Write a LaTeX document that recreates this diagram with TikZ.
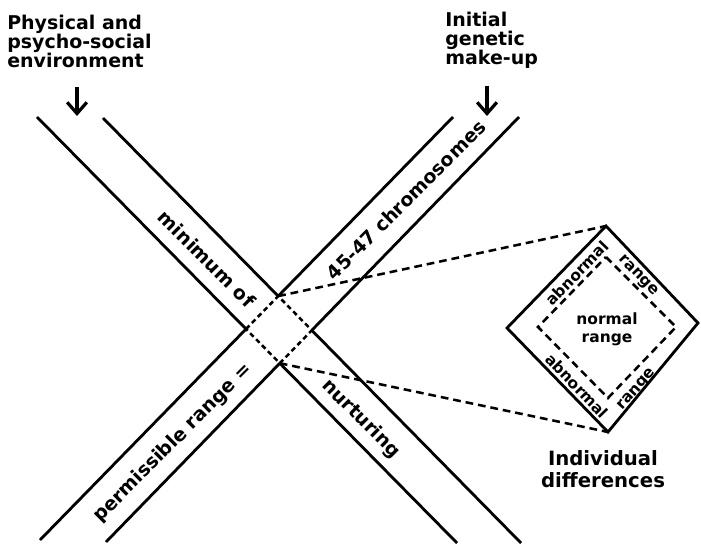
\documentclass[tikz,border=0pt]{standalone}
\usepackage{fontspec}
\setmainfont{DejaVu Sans}
\usetikzlibrary{arrows.meta}

\tikzset{
  band/.style={line width=2pt},
  crossdash/.style={line width=1.8pt, dash pattern=on 3.5pt off 2.5pt},
  linkdash/.style={line width=1.8pt, dash pattern=on 5.5pt off 3.5pt},
  pointer/.style={line width=2.3pt, -{Straight Barb[length=8pt, width=14pt]}},
  headtext/.style={font=\bfseries\fontsize{13.5}{13.5}\selectfont, inner sep=0pt},
  bandtext/.style={font=\bfseries\fontsize{13.5}{14}\selectfont, inner sep=0pt},
  ringtext/.style={font=\bfseries\fontsize{11}{12.8}\selectfont, inner sep=0pt},
}

\begin{document}
\begin{tikzpicture}[x=0.025cm, y=-0.025cm]
\useasboundingbox (0,0) rectangle (701,544);

% ends of the two bands
\coordinate (envA) at (37,117);  \coordinate (envZ) at (457,543);
\coordinate (envB) at (103,118); \coordinate (envY) at (521,543);
\coordinate (genA) at (40,540);  \coordinate (genZ) at (453,117);
\coordinate (genB) at (106,542); \coordinate (genY) at (519,117);

% where they cross
\coordinate (xL) at (intersection of envA--envZ and genA--genZ);
\coordinate (xT) at (intersection of envB--envY and genA--genZ);
\coordinate (xR) at (intersection of envB--envY and genB--genY);
\coordinate (xB) at (intersection of envA--envZ and genB--genY);

% solid band edges, dashed inside the overlap
\draw[band] (envA) -- (xL) (xB) -- (envZ);
\draw[band] (envB) -- (xT) (xR) -- (envY);
\draw[band] (genA) -- (xL) (xT) -- (genZ);
\draw[band] (genB) -- (xB) (xR) -- (genY);
\draw[crossdash] (xL) -- (xT) -- (xR) -- (xB) -- cycle;

% band labels
\node[bandtext, rotate=-45] (minof) at (207,259) {minimum of};
\node[bandtext, rotate=45] (permis) at (173,443) {permissible range =};
\node[bandtext, rotate=45] (chrom) at (406,200) {45-47 chromosomes};
\node[bandtext, rotate=-45] (nurt) at (361,419) {nurturing};

% diamond of individual differences
\coordinate (dT) at (606,226); \coordinate (dR) at (698,323);
\coordinate (dB) at (608,432); \coordinate (dL) at (507,328);
\coordinate (iT) at (606,257); \coordinate (iR) at (676,327);
\coordinate (iB) at (608,398); \coordinate (iL) at (538,327);
\draw[band] (dT) -- (dR) -- (dB) -- (dL) -- cycle;
\draw[linkdash] (iT) -- (iR) -- (iB) -- (iL) -- cycle;

\foreach \x/\y/\ang/\txt [count=\i] in {577/273/46/abnormal, 638/276/-46/range,
    577/386/-46/abnormal, 637/390/48/range}
  \node[ringtext, rotate=\ang] (ring\i) at (\x,\y) {\txt};
\node[ringtext, align=center] (normal) at (607,329) {normal\\range};

% links from the overlap to the diamond
\draw[linkdash] (xT) -- (dT);
\draw[linkdash] (xB) -- (dB);

% headings
\node[headtext, anchor=north west, align=left] (envtext) at (7,15)
  {Physical and\\psycho-social\\environment};
\node[headtext, anchor=north west, align=left] (gentext) at (445,12)
  {Initial\\genetic\\make-up};
\node[headtext, align=center, font=\bfseries\fontsize{14}{15.5}\selectfont] (indiv) at (603,469)
  {Individual\\differences};

\coordinate (envTail) at (77,87);  \coordinate (envTip) at (77,116);
\coordinate (genTail) at (487,86); \coordinate (genTip) at (487,116);
\draw[pointer] (envTail) -- (envTip);
\draw[pointer] (genTail) -- (genTip);

\end{tikzpicture}
\end{document}
